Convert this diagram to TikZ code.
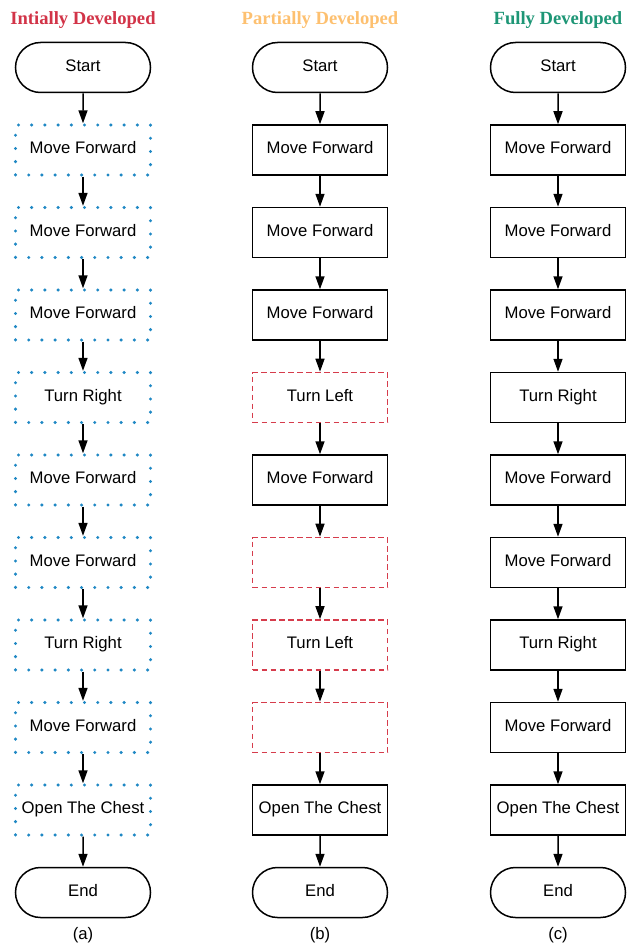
\documentclass[tikz,border=0pt]{standalone}
\usepackage{fontspec}
\setmainfont{Liberation Sans}
\newfontfamily\titlefont{Liberation Serif}
\usepackage{xcolor}
\usetikzlibrary{arrows.meta}
\usetikzlibrary{shapes.misc}
\definecolor{introred}{RGB}{210,52,72}
\definecolor{partorange}{RGB}{253,192,112}
\definecolor{fullgreen}{RGB}{30,150,118}
\definecolor{dotblue}{RGB}{31,136,196}
\definecolor{dashred}{RGB}{214,60,76}

\begin{document}
\begin{tikzpicture}[x=1pt,y=-1pt,
  every node/.style={font=\fontsize{16.7}{19}\selectfont},
  title/.style={font=\titlefont\bfseries\fontsize{18.6}{20}\selectfont},
  term/.style={draw,line width=1.5pt,rounded rectangle,minimum width=135pt,minimum height=50pt,inner sep=0pt,text height=12pt,text depth=4.5pt},
  block/.style={draw,line width=1.5pt,minimum width=135pt,minimum height=50pt,inner sep=0pt,text height=12pt,text depth=4.5pt},
  dotbox/.style={block,draw=dotblue,line width=3.4pt,line cap=round,dash pattern=on 0pt off 13.21pt},
  dashbox/.style={block,draw=dashred,line width=1.6pt,dash pattern=on 5.5pt off 3.5pt},
  arr/.style={line width=1.5pt,-{Triangle[length=13pt,width=9pt]}}]
  \useasboundingbox (0,0) rectangle (631,952);
  % titles
  \node[title,text=introred] (ta) at (83,20.5) {Intially Developed};
  \node[title,text=partorange] (tb) at (320,20.5) {Partially Developed};
  \node[title,text=fullgreen] (tc) at (558,20.5) {Fully Developed};
  % (a)
  \node[term] (a0) at (83,67.5) {Start};
  \node[dotbox] (a1) at (83,150) {Move Forward};
  \node[dotbox] (a2) at (83,232.5) {Move Forward};
  \node[dotbox] (a3) at (83,315) {Move Forward};
  \node[dotbox] (a4) at (83,397.5) {Turn Right};
  \node[dotbox] (a5) at (83,480) {Move Forward};
  \node[dotbox] (a6) at (83,562.5) {Move Forward};
  \node[dotbox] (a7) at (83,645) {Turn Right};
  \node[dotbox] (a8) at (83,727.5) {Move Forward};
  \node[dotbox] (a9) at (83,810) {Open The Chest};
  \node[term] (a10) at (83,892.5) {End};
  \node (la) at (83,935) {(a)};
  % (b)
  \node[term] (b0) at (320,67.5) {Start};
  \node[block] (b1) at (320,150) {Move Forward};
  \node[block] (b2) at (320,232.5) {Move Forward};
  \node[block] (b3) at (320,315) {Move Forward};
  \node[dashbox] (b4) at (320,397.5) {Turn Left};
  \node[block] (b5) at (320,480) {Move Forward};
  \node[dashbox] (b6) at (320,562.5) {};
  \node[dashbox] (b7) at (320,645) {Turn Left};
  \node[dashbox] (b8) at (320,727.5) {};
  \node[block] (b9) at (320,810) {Open The Chest};
  \node[term] (b10) at (320,892.5) {End};
  \node (lb) at (320,935) {(b)};
  % (c)
  \node[term] (c0) at (558,67.5) {Start};
  \node[block] (c1) at (558,150) {Move Forward};
  \node[block] (c2) at (558,232.5) {Move Forward};
  \node[block] (c3) at (558,315) {Move Forward};
  \node[block] (c4) at (558,397.5) {Turn Right};
  \node[block] (c5) at (558,480) {Move Forward};
  \node[block] (c6) at (558,562.5) {Move Forward};
  \node[block] (c7) at (558,645) {Turn Right};
  \node[block] (c8) at (558,727.5) {Move Forward};
  \node[block] (c9) at (558,810) {Open The Chest};
  \node[term] (c10) at (558,892.5) {End};
  \node (lc) at (558,935) {(c)};
  % arrows
  \draw (a0) edge[arr] (a1) (a1) edge[arr] (a2) (a2) edge[arr] (a3) (a3) edge[arr] (a4) (a4) edge[arr] (a5)
        (a5) edge[arr] (a6) (a6) edge[arr] (a7) (a7) edge[arr] (a8) (a8) edge[arr] (a9) (a9) edge[arr] (a10);
  \draw (b0) edge[arr] (b1) (b1) edge[arr] (b2) (b2) edge[arr] (b3) (b3) edge[arr] (b4) (b4) edge[arr] (b5)
        (b5) edge[arr] (b6) (b6) edge[arr] (b7) (b7) edge[arr] (b8) (b8) edge[arr] (b9) (b9) edge[arr] (b10);
  \draw (c0) edge[arr] (c1) (c1) edge[arr] (c2) (c2) edge[arr] (c3) (c3) edge[arr] (c4) (c4) edge[arr] (c5)
        (c5) edge[arr] (c6) (c6) edge[arr] (c7) (c7) edge[arr] (c8) (c8) edge[arr] (c9) (c9) edge[arr] (c10);
\end{tikzpicture}
\end{document}
